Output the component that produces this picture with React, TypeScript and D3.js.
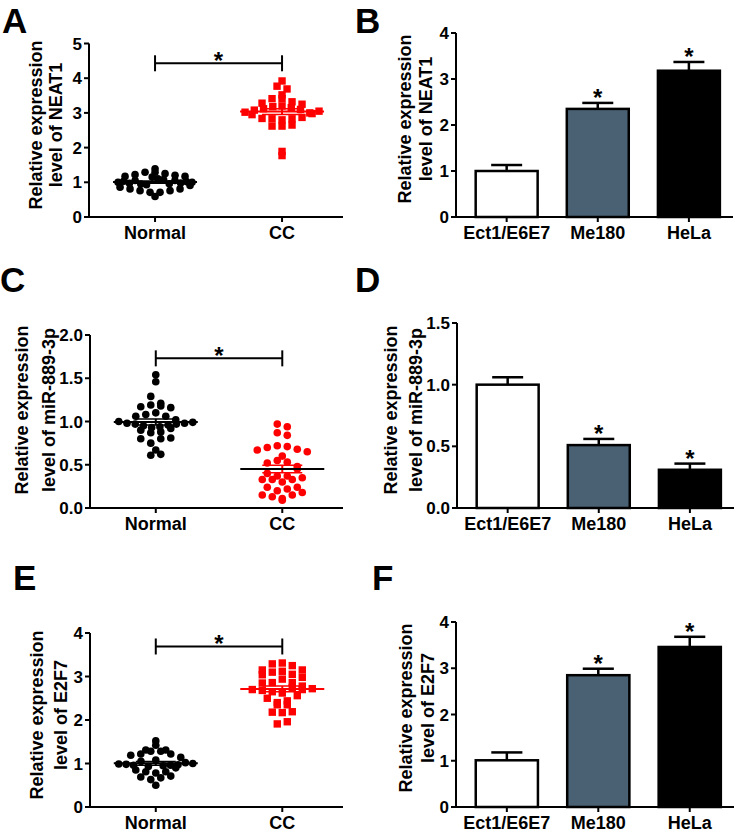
import React from 'react';
import * as d3 from 'd3';

// ---------- DATA ----------
const scatterCategories = ['Normal', 'CC'];
const barCategories = ['Ect1/E6E7', 'Me180', 'HeLa'];

// Panel A: NEAT1 in tissues
const neat1Normal = [1.39, 1.29, 1.29, 1.25, 1.22, 1.2, 1.17, 1.17, 1.15, 1.1, 1.08, 1.05, 1.05, 1.03, 1.02, 1.0, 1.0, 0.98, 0.97, 0.96, 0.95, 0.93, 0.91, 0.86, 0.81, 0.81, 0.76, 0.76, 0.71, 0.71, 0.59];
const neat1CC = [3.92, 3.77, 3.69, 3.52, 3.41, 3.41, 3.32, 3.28, 3.25, 3.2, 3.18, 3.15, 3.12, 3.1, 3.08, 3.05, 3.02, 3.0, 2.98, 2.95, 2.87, 2.84, 2.83, 2.83, 2.8, 2.65, 2.62, 2.62, 1.89, 1.77];
const neat1Ticks = [0, 1, 2, 3, 4, 5];
const neat1SigLevel = 4.43;

// Panel B: NEAT1 in cell lines
const neat1CellMeans = [1.0, 2.35, 3.18];
const neat1CellErr = [0.13, 0.13, 0.19];
const neat1CellSig = [false, true, true];
const neat1CellTicks = [0, 1, 2, 3, 4];

// Panel C: miR-889-3p in tissues
const mirNormal = [1.54, 1.46, 1.29, 1.21, 1.19, 1.18, 1.17, 1.16, 1.1, 1.08, 1.06, 1.06, 1.02, 1.0, 0.99, 0.98, 0.98, 0.97, 0.97, 0.96, 0.95, 0.94, 0.93, 0.92, 0.9, 0.88, 0.87, 0.81, 0.8, 0.8, 0.75, 0.67, 0.62, 0.61];
const mirCC = [0.97, 0.94, 0.87, 0.84, 0.72, 0.71, 0.7, 0.68, 0.67, 0.65, 0.6, 0.55, 0.53, 0.52, 0.48, 0.45, 0.4, 0.37, 0.37, 0.35, 0.33, 0.33, 0.33, 0.3, 0.24, 0.24, 0.22, 0.2, 0.18, 0.15, 0.15, 0.13, 0.11, 0.09];
const mirTicks = [0, 0.5, 1.0, 1.5, 2.0];
const mirSigLevel = 1.73;

// Panel D: miR-889-3p in cell lines
const mirCellMeans = [1.0, 0.51, 0.31];
const mirCellErr = [0.06, 0.05, 0.05];
const mirCellSig = [false, true, true];
const mirCellTicks = [0, 0.5, 1.0, 1.5];

// Panel E: E2F7 in tissues
const e2f7Normal = [1.52, 1.42, 1.31, 1.31, 1.28, 1.28, 1.22, 1.22, 1.19, 1.14, 1.08, 1.05, 1.02, 1.0, 0.99, 0.98, 0.97, 0.96, 0.96, 0.95, 0.93, 0.9, 0.85, 0.81, 0.81, 0.78, 0.71, 0.69, 0.67, 0.63, 0.5];
const e2f7CC = [3.31, 3.29, 3.25, 3.15, 3.15, 3.12, 3.1, 3.05, 3.04, 2.98, 2.94, 2.86, 2.86, 2.85, 2.78, 2.75, 2.72, 2.7, 2.7, 2.68, 2.65, 2.62, 2.56, 2.5, 2.44, 2.4, 2.35, 2.35, 2.19, 2.18, 2.17, 1.96, 1.91];
const e2f7Ticks = [0, 1, 2, 3, 4];
const e2f7SigLevel = 3.69;

// Panel F: E2F7 in cell lines
const e2f7CellMeans = [1.01, 2.85, 3.46];
const e2f7CellErr = [0.17, 0.14, 0.22];
const e2f7CellSig = [false, true, true];
const e2f7CellTicks = [0, 1, 2, 3, 4];

// ---------- STYLE ----------
const FONT = "'Liberation Sans', Arial, Helvetica, sans-serif";
const RED = '#ff0000';
const BAR_FILLS = ['#ffffff', '#4a6173', '#000000'];

// Prism-like row scatter: points binned by pixel height, spread horizontally in rows
function rowScatter(values: number[], y: (v: number) => number, y0: number, binH: number, spacing: number, maxHalf: number): number[] {
  const mean = d3.mean(values)!;
  const xs = new Array(values.length).fill(0);
  const bins = d3.group(values.map((_, i) => i), (i) => Math.floor((y0 - y(values[i])) / binH));
  for (const [, idx] of bins) {
    const n = idx.length;
    const sp = n > 1 ? Math.min(spacing, (2 * maxHalf) / (n - 1)) : spacing;
    const slots = d3.range(n).map((k) => (k - (n - 1) / 2) * sp);
    slots.sort((a, b) => Math.abs(a) - Math.abs(b) || a - b);
    const sorted = [...idx].sort((a, b) => Math.abs(values[b] - mean) - Math.abs(values[a] - mean));
    sorted.forEach((i, k) => (xs[i] = slots[k]));
  }
  return xs;
}

function Letter({ t, x, y }: { t: string; x: number; y: number }) {
  return (
    <text x={x} y={y} fontFamily={FONT} fontWeight="bold" fontSize={35} fill="#000">
      {t}
    </text>
  );
}

function YTitle({ lines, xs, cy }: { lines: string[]; xs: number[]; cy: number }) {
  return (
    <g>
      {lines.map((l, i) => (
        <text
          key={i}
          transform={`translate(${xs[i]},${cy}) rotate(-90)`}
          textAnchor="middle"
          fontFamily={FONT}
          fontWeight="bold"
          fontSize={18}
          fill="#000"
        >
          {l}
        </text>
      ))}
    </g>
  );
}

function YAxis({ y, x0, ticks, fmt }: { y: d3.ScaleLinear<number, number>; x0: number; ticks: number[]; fmt: (v: number) => string }) {
  const [d0, d1] = y.domain();
  return (
    <g>
      <line x1={x0} x2={x0} y1={y(d0) + 1} y2={y(d1)} stroke="#000" strokeWidth={2} />
      {ticks.map((t) => (
        <g key={t}>
          <line x1={x0 - 5} x2={x0} y1={y(t)} y2={y(t)} stroke="#000" strokeWidth={2} />
          <text x={x0 - 7} y={y(t) + 6} textAnchor="end" fontFamily={FONT} fontWeight="bold" fontSize={17} fill="#000">
            {fmt(t)}
          </text>
        </g>
      ))}
    </g>
  );
}

type ScatterProps = {
  groups: number[][];
  ticks: number[];
  fmt: (v: number) => string;
  sig: number;
  shapes: ('circle' | 'square')[];
  colors: string[];
  meanColors: string[];
  box: { x0: number; x1: number; yTop: number; yBottom: number };
};

function ScatterPanel({ groups, ticks, fmt, sig, shapes, colors, meanColors, box }: ScatterProps) {
  const y = d3.scaleLinear().domain([ticks[0], ticks[ticks.length - 1]]).range([box.yBottom, box.yTop]);
  const x = d3.scalePoint<string>().domain(scatterCategories).range([box.x0, box.x1]).padding(0.5).align(0.52);
  const xa = x(scatterCategories[0])!;
  const xb = x(scatterCategories[1])!;
  const sy = y(sig);
  return (
    <g>
      <YAxis y={y} x0={box.x0} ticks={ticks} fmt={fmt} />
      <line x1={box.x0 - 1} x2={box.x1} y1={box.yBottom} y2={box.yBottom} stroke="#000" strokeWidth={2} />
      {scatterCategories.map((c) => (
        <g key={c}>
          <line x1={x(c)} x2={x(c)} y1={box.yBottom} y2={box.yBottom + 5} stroke="#000" strokeWidth={2} />
          <text x={x(c)} y={box.yBottom + 22} textAnchor="middle" fontFamily={FONT} fontWeight="bold" fontSize={18} fill="#000">
            {c}
          </text>
        </g>
      ))}
      {groups.map((vals, gi) => {
        const cx = x(scatterCategories[gi])!;
        const offs = rowScatter(vals, y, box.yBottom, 8, 10, 37);
        const mean = d3.mean(vals)!;
        const sem = d3.deviation(vals)! / Math.sqrt(vals.length);
        return (
          <g key={gi}>
            {vals.map((v, i) =>
              shapes[gi] === 'circle' ? (
                <circle key={i} cx={cx + offs[i]} cy={y(v)} r={3.8} fill={colors[gi]} />
              ) : (
                <rect key={i} x={cx + offs[i] - 3.7} y={y(v) - 3.7} width={7.4} height={7.4} fill={colors[gi]} />
              )
            )}
            <line x1={cx} x2={cx} y1={y(mean - sem)} y2={y(mean + sem)} stroke={colors[gi]} strokeWidth={2} />
            <line x1={cx - 20} x2={cx + 20} y1={y(mean + sem)} y2={y(mean + sem)} stroke={colors[gi]} strokeWidth={1.5} />
            <line x1={cx - 20} x2={cx + 20} y1={y(mean - sem)} y2={y(mean - sem)} stroke={colors[gi]} strokeWidth={1.5} />
            <line x1={cx - 42} x2={cx + 42} y1={y(mean)} y2={y(mean)} stroke={meanColors[gi]} strokeWidth={2} />
          </g>
        );
      })}
      <line x1={xa} x2={xb} y1={sy} y2={sy} stroke="#000" strokeWidth={2} />
      <line x1={xa} x2={xa} y1={sy - 8} y2={sy + 8} stroke="#000" strokeWidth={2} />
      <line x1={xb} x2={xb} y1={sy - 8} y2={sy + 8} stroke="#000" strokeWidth={2} />
      <text x={(xa + xb) / 2} y={sy + 6} textAnchor="middle" fontFamily={FONT} fontWeight="bold" fontSize={24} fill="#000">
        *
      </text>
    </g>
  );
}

type BarProps = {
  means: number[];
  errs: number[];
  sigs: boolean[];
  ticks: number[];
  fmt: (v: number) => string;
  box: { x0: number; x1: number; yTop: number; yBottom: number };
};

function BarPanel({ means, errs, sigs, ticks, fmt, box }: BarProps) {
  const y = d3.scaleLinear().domain([ticks[0], ticks[ticks.length - 1]]).range([box.yBottom, box.yTop]);
  const x = d3.scaleBand<string>().domain(barCategories).range([box.x0, box.x1]).paddingInner(0.32).paddingOuter(0.18).align(0.6);
  const bw = x.bandwidth();
  return (
    <g>
      {barCategories.map((c, i) => {
        const bx = x(c)!;
        const cx = bx + bw / 2;
        const top = y(means[i]);
        const et = y(means[i] + errs[i]);
        return (
          <g key={c}>
            <line x1={cx} x2={cx} y1={top} y2={et} stroke="#000" strokeWidth={2.5} />
            <line x1={cx - bw / 4} x2={cx + bw / 4} y1={et} y2={et} stroke="#000" strokeWidth={2.5} />
            <rect x={bx} y={top} width={bw} height={box.yBottom - top} fill={BAR_FILLS[i]} stroke="#000" strokeWidth={2.5} />
            {sigs[i] && (
              <text x={cx} y={et + 3} textAnchor="middle" fontFamily={FONT} fontWeight="bold" fontSize={24} fill="#000">
                *
              </text>
            )}
            <line x1={cx} x2={cx} y1={box.yBottom} y2={box.yBottom + 5} stroke="#000" strokeWidth={2} />
            <text x={cx} y={box.yBottom + 22} textAnchor="middle" fontFamily={FONT} fontWeight="bold" fontSize={18} fill="#000">
              {c}
            </text>
          </g>
        );
      })}
      <YAxis y={y} x0={box.x0} ticks={ticks} fmt={fmt} />
      <line x1={box.x0 - 1} x2={box.x1} y1={box.yBottom} y2={box.yBottom} stroke="#000" strokeWidth={2} />
    </g>
  );
}

const fInt = d3.format('d');
const f1 = d3.format('.1f');

export default function App() {
  return (
    <svg width={738} height={833} style={{ position: 'absolute', left: 0, top: 0, background: '#fff' }}>
      <rect x={0} y={0} width={738} height={833} fill="#fff" />
      {/* A */}
      <Letter t="A" x={2} y={33} />
      <YTitle lines={['Relative expression', 'level of NEAT1']} xs={[42, 62]} cy={125} />
      <ScatterPanel
        groups={[neat1Normal, neat1CC]}
        ticks={neat1Ticks}
        fmt={fInt}
        sig={neat1SigLevel}
        shapes={['circle', 'square']}
        colors={['#000', RED]}
        meanColors={['#000', RED]}
        box={{ x0: 89, x1: 343, yTop: 43.5, yBottom: 217 }}
      />
      {/* B */}
      <Letter t="B" x={355} y={33} />
      <YTitle lines={['Relative expression', 'level of NEAT1']} xs={[411, 432]} cy={119} />
      <BarPanel means={neat1CellMeans} errs={neat1CellErr} sigs={neat1CellSig} ticks={neat1CellTicks} fmt={fInt} box={{ x0: 456, x1: 733, yTop: 33, yBottom: 217 }} />
      {/* C */}
      <Letter t="C" x={0} y={292} />
      <YTitle lines={['Relative expression', 'level of miR-889-3p']} xs={[28, 55]} cy={410} />
      <ScatterPanel
        groups={[mirNormal, mirCC]}
        ticks={mirTicks}
        fmt={f1}
        sig={mirSigLevel}
        shapes={['circle', 'circle']}
        colors={['#000', RED]}
        meanColors={['#000', '#000']}
        box={{ x0: 90, x1: 343, yTop: 335, yBottom: 508 }}
      />
      {/* D */}
      <Letter t="D" x={355} y={292} />
      <YTitle lines={['Relative expression', 'level of miR-889-3p']} xs={[397, 422]} cy={410} />
      <BarPanel means={mirCellMeans} errs={mirCellErr} sigs={mirCellSig} ticks={mirCellTicks} fmt={f1} box={{ x0: 457, x1: 734, yTop: 323, yBottom: 508 }} />
      {/* E */}
      <Letter t="E" x={13} y={590} />
      <YTitle lines={['Relative expression', 'level of E2F7']} xs={[43, 67]} cy={715} />
      <ScatterPanel
        groups={[e2f7Normal, e2f7CC]}
        ticks={e2f7Ticks}
        fmt={fInt}
        sig={e2f7SigLevel}
        shapes={['circle', 'square']}
        colors={['#000', RED]}
        meanColors={['#000', RED]}
        box={{ x0: 90, x1: 343, yTop: 633, yBottom: 807 }}
      />
      {/* F */}
      <Letter t="F" x={372} y={590} />
      <YTitle lines={['Relative expression', 'level of E2F7']} xs={[412, 434]} cy={708} />
      <BarPanel means={e2f7CellMeans} errs={e2f7CellErr} sigs={e2f7CellSig} ticks={e2f7CellTicks} fmt={fInt} box={{ x0: 456, x1: 734, yTop: 622, yBottom: 807 }} />
    </svg>
  );
}
